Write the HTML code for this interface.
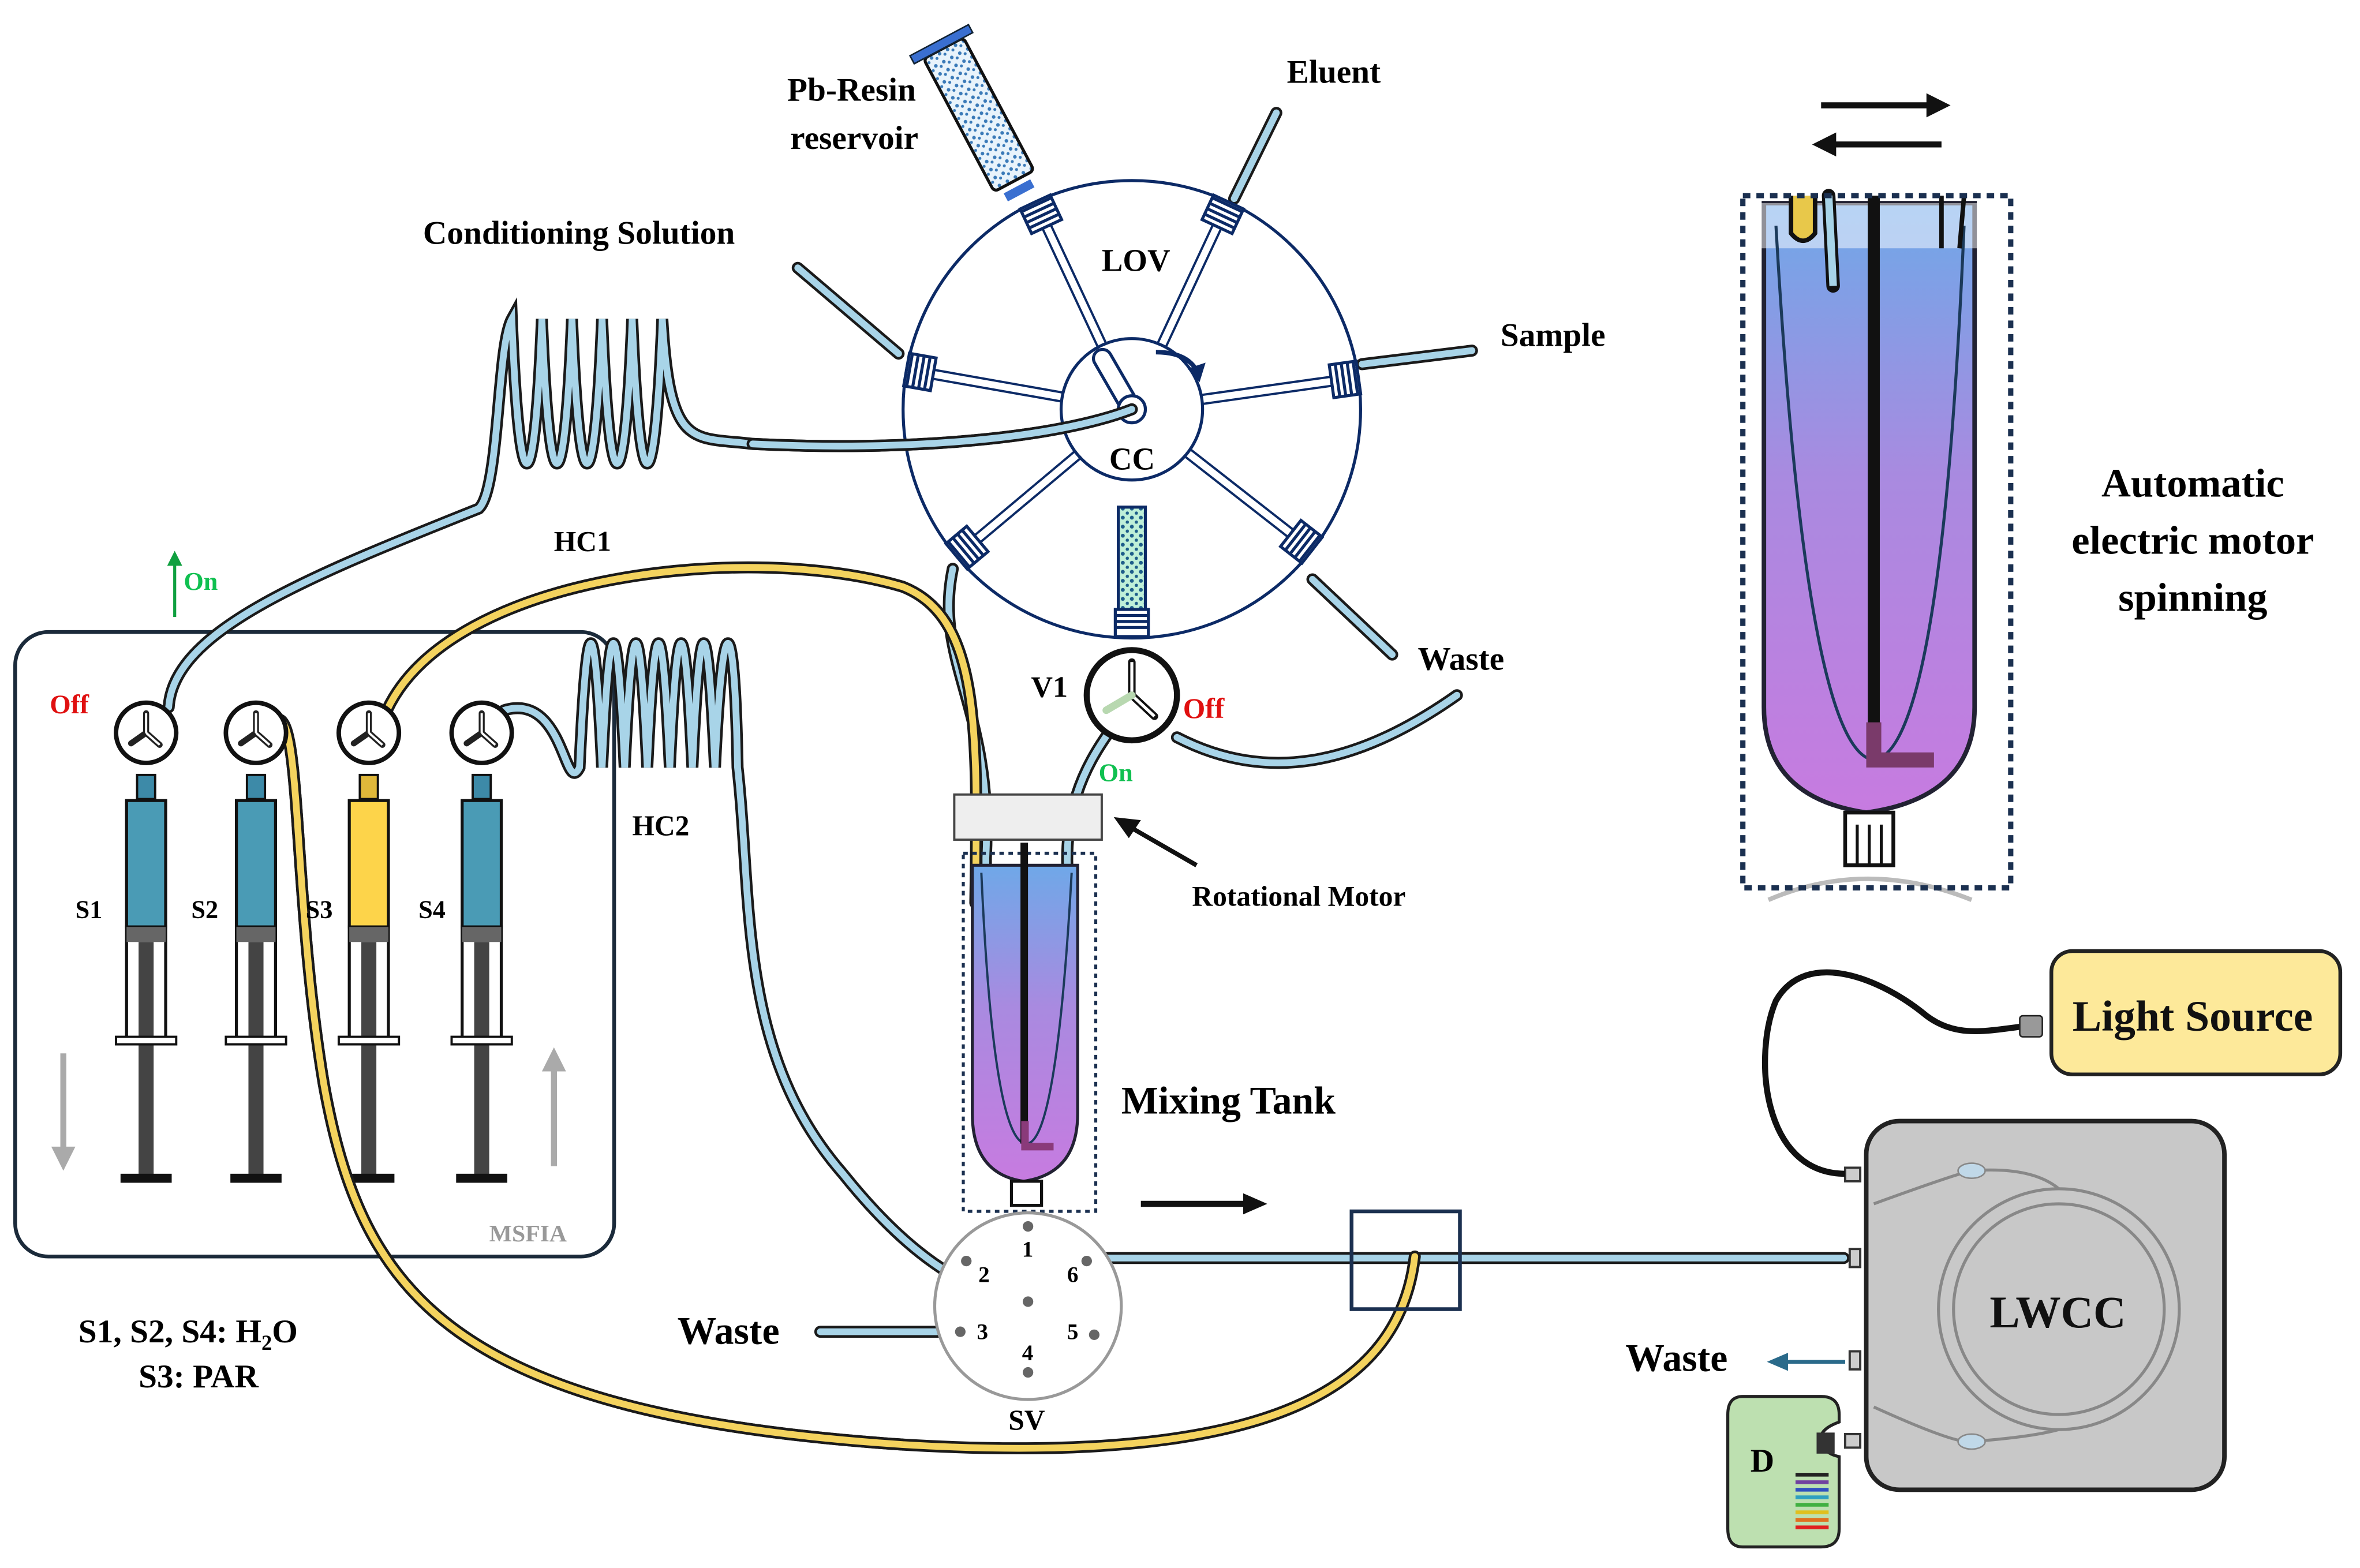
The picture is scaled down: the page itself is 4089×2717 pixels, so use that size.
<!DOCTYPE html>
<html><head><meta charset="utf-8"><style>
html,body{margin:0;padding:0;background:#fff}
svg{display:block}
text{font-family:"Liberation Serif",serif;font-weight:bold}
</style></head><body>
<svg width="4089" height="2717" viewBox="0 0 1568 1042" xmlns="http://www.w3.org/2000/svg">
<defs>
<linearGradient id="tank" x1="0" y1="0" x2="0" y2="1">
<stop offset="0" stop-color="#6fa8e8"/><stop offset="0.45" stop-color="#a98ae0"/><stop offset="1" stop-color="#c77be0"/>
</linearGradient>
<pattern id="dots" width="6" height="6" patternUnits="userSpaceOnUse"><rect width="6" height="6" fill="#bff0d8"/><circle cx="2" cy="2" r="1.3" fill="#1d5d8a"/><circle cx="5" cy="5" r="1.1" fill="#1d5d8a"/></pattern>
<pattern id="dots2" width="6" height="6" patternUnits="userSpaceOnUse"><rect width="6" height="6" fill="#e8f3fb"/><circle cx="2" cy="2" r="1.2" fill="#3a7ab8"/><circle cx="5" cy="4" r="1" fill="#3a7ab8"/></pattern>
<g id="port"><line x1="45" y1="-3" x2="136" y2="-3" stroke="#0c2a66" stroke-width="1.5"/><line x1="45" y1="3" x2="136" y2="3" stroke="#0c2a66" stroke-width="1.5"/>
<rect x="134" y="-11" width="18" height="22" fill="#fff" stroke="#0c2a66" stroke-width="2"/>
<g stroke="#0c2a66" stroke-width="2"><line x1="138" y1="-11" x2="138" y2="11"/><line x1="142" y1="-11" x2="142" y2="11"/><line x1="146" y1="-11" x2="146" y2="11"/><line x1="150" y1="-11" x2="150" y2="11"/></g></g>
<g id="valve"><circle r="20" fill="#fff" stroke="#111" stroke-width="3"/><path d="M0 0 L0 -13 M0 0 L9 8 M0 0 L-10 7" stroke="#222" stroke-width="4" stroke-linecap="round" fill="none"/><path d="M0 0 L0 -13 M0 0 L9 8" stroke="#fff" stroke-width="1.5" fill="none"/></g>
</defs>

<rect x="10" y="420" width="398" height="415" rx="22" fill="#fff" stroke="#1b2a3a" stroke-width="2.5"/>
<text x="325" y="825" font-size="16" fill="#999">MSFIA</text>

<g fill="none" stroke-linecap="round">
<g stroke="#1a1a1a" stroke-width="8">
<path d="M112 470 C115 420 200 385 318 338 C332 325 330 230 340 212 C345 340 355 340 360 212 C365 340 375 340 380 212 C385 340 395 340 400 212 C405 340 415 340 420 212 C425 340 435 340 440 212 C445 300 460 290 500 295 C600 300 700 292 752 272"/>
<path d="M335 472 C375 460 375 530 385 510 C390 400 395 400 400 510 C405 400 410 400 415 510 C420 400 425 400 430 510 C435 400 440 400 445 510 C450 400 455 400 460 510 C465 400 470 400 475 510 C480 400 488 400 490 510 C500 600 490 700 560 780 C600 830 640 860 683 865"/>
<path d="M633 378 C620 440 660 470 655 570 L655 600"/>
<path d="M738 485 C720 510 705 540 710 590"/>
<path d="M782 490 C840 520 900 510 968 462"/>
<path d="M872 385 L925 435"/>
<path d="M905 242 L978 233"/>
<path d="M820 132 L848 75"/>
<path d="M530 178 L597 235"/>
<path d="M735 836 L1225 836"/>
<path d="M545 885 L635 885"/>
</g>
<g stroke="#a8d4e8" stroke-width="4.5">
<path d="M112 470 C115 420 200 385 318 338 C332 325 330 230 340 212 C345 340 355 340 360 212 C365 340 375 340 380 212 C385 340 395 340 400 212 C405 340 415 340 420 212 C425 340 435 340 440 212 C445 300 460 290 500 295 C600 300 700 292 752 272"/>
<path d="M335 472 C375 460 375 530 385 510 C390 400 395 400 400 510 C405 400 410 400 415 510 C420 400 425 400 430 510 C435 400 440 400 445 510 C450 400 455 400 460 510 C465 400 470 400 475 510 C480 400 488 400 490 510 C500 600 490 700 560 780 C600 830 640 860 683 865"/>
<path d="M633 378 C620 440 660 470 655 570 L655 600"/>
<path d="M738 485 C720 510 705 540 710 590"/>
<path d="M782 490 C840 520 900 510 968 462"/>
<path d="M872 385 L925 435"/>
<path d="M905 242 L978 233"/>
<path d="M820 132 L848 75"/>
<path d="M530 178 L597 235"/>
<path d="M735 836 L1225 836"/>
<path d="M545 885 L635 885"/>
</g>
<g stroke="#1a1a1a" stroke-width="8">
<path d="M257 472 C300 380 500 360 600 390 C650 410 650 480 648 600"/>
<path d="M185 478 C200 480 195 600 215 720 C240 860 300 940 600 960 C850 975 930 920 940 835"/>
</g>
<g stroke="#f4d35e" stroke-width="4.5">
<path d="M257 472 C300 380 500 360 600 390 C650 410 650 480 648 600"/>
<path d="M185 478 C200 480 195 600 215 720 C240 860 300 940 600 960 C850 975 930 920 940 835"/>
</g>
</g>

<g transform="translate(97,0)">
<rect x="-6" y="515" width="12" height="16" fill="#3d8aa8" stroke="#111" stroke-width="1.5"/>
<rect x="-13" y="532" width="26" height="84" fill="#4a9bb5" stroke="#111" stroke-width="2"/>
<rect x="-13" y="616" width="26" height="74" fill="#fff" stroke="#111" stroke-width="2"/>
<rect x="-13" y="616" width="26" height="10" fill="#666"/>
<rect x="-5" y="626" width="10" height="155" fill="#444"/>
<rect x="-20" y="689" width="40" height="5" fill="#fff" stroke="#111" stroke-width="1.5"/>
<rect x="-17" y="780" width="34" height="6" fill="#111"/>
</g>
<g transform="translate(170,0)">
<rect x="-6" y="515" width="12" height="16" fill="#3d8aa8" stroke="#111" stroke-width="1.5"/>
<rect x="-13" y="532" width="26" height="84" fill="#4a9bb5" stroke="#111" stroke-width="2"/>
<rect x="-13" y="616" width="26" height="74" fill="#fff" stroke="#111" stroke-width="2"/>
<rect x="-13" y="616" width="26" height="10" fill="#666"/>
<rect x="-5" y="626" width="10" height="155" fill="#444"/>
<rect x="-20" y="689" width="40" height="5" fill="#fff" stroke="#111" stroke-width="1.5"/>
<rect x="-17" y="780" width="34" height="6" fill="#111"/>
</g>
<g transform="translate(245,0)">
<rect x="-6" y="515" width="12" height="16" fill="#e0b83a" stroke="#111" stroke-width="1.5"/>
<rect x="-13" y="532" width="26" height="84" fill="#fdd44a" stroke="#111" stroke-width="2"/>
<rect x="-13" y="616" width="26" height="74" fill="#fff" stroke="#111" stroke-width="2"/>
<rect x="-13" y="616" width="26" height="10" fill="#666"/>
<rect x="-5" y="626" width="10" height="155" fill="#444"/>
<rect x="-20" y="689" width="40" height="5" fill="#fff" stroke="#111" stroke-width="1.5"/>
<rect x="-17" y="780" width="34" height="6" fill="#111"/>
</g>
<g transform="translate(320,0)">
<rect x="-6" y="515" width="12" height="16" fill="#3d8aa8" stroke="#111" stroke-width="1.5"/>
<rect x="-13" y="532" width="26" height="84" fill="#4a9bb5" stroke="#111" stroke-width="2"/>
<rect x="-13" y="616" width="26" height="74" fill="#fff" stroke="#111" stroke-width="2"/>
<rect x="-13" y="616" width="26" height="10" fill="#666"/>
<rect x="-5" y="626" width="10" height="155" fill="#444"/>
<rect x="-20" y="689" width="40" height="5" fill="#fff" stroke="#111" stroke-width="1.5"/>
<rect x="-17" y="780" width="34" height="6" fill="#111"/>
</g>
<path d="M185 478 C200 480 195 600 215 720 C240 860 300 940 600 960" fill="none" stroke="#1a1a1a" stroke-width="8"/>
<path d="M185 478 C200 480 195 600 215 720 C240 860 300 940 600 960" fill="none" stroke="#f4d35e" stroke-width="4.5"/>

<use href="#valve" x="97" y="487"/><use href="#valve" x="170" y="487"/><use href="#valve" x="245" y="487"/><use href="#valve" x="320" y="487"/>
<text x="50" y="610" font-size="17" font-weight="normal">S1</text>
<text x="127" y="610" font-size="17" font-weight="normal">S2</text>
<text x="203" y="610" font-size="17" font-weight="normal">S3</text>
<text x="278" y="610" font-size="17" font-weight="normal">S4</text>
<text x="33" y="474" font-size="18" fill="#e01010">Off</text>
<path d="M116 410 L116 372" stroke="#10a040" stroke-width="2"/><path d="M111 376 L116 366 L121 376Z" fill="#10a040"/>
<text x="122" y="392" font-size="17" fill="#10c050">On</text>
<path d="M42 700 L42 765" stroke="#aaa" stroke-width="4"/><path d="M34 762 L42 778 L50 762Z" fill="#aaa"/>
<path d="M368 775 L368 710" stroke="#aaa" stroke-width="4"/><path d="M360 712 L368 696 L376 712Z" fill="#aaa"/>

<text x="368" y="366" font-size="19">HC1</text>
<text x="420" y="555" font-size="19">HC2</text>
<text x="52" y="892" font-size="22">S1, S2, S4: H<tspan font-size="14" dy="5">2</tspan><tspan dy="-5">O</tspan></text>
<text x="92" y="922" font-size="22">S3: PAR</text>

<circle cx="752" cy="272" r="152" fill="none" stroke="#0c2a66" stroke-width="2"/>
<g transform="translate(752,272)">
<use href="#port" transform="rotate(-115)"/><use href="#port" transform="rotate(-65)"/>
<use href="#port" transform="rotate(-170)"/><use href="#port" transform="rotate(-8)"/>
<use href="#port" transform="rotate(140)"/><use href="#port" transform="rotate(38)"/>
</g>
<circle cx="752" cy="272" r="47" fill="#fff" stroke="#0c2a66" stroke-width="2"/>
<rect x="743" y="337" width="18" height="70" fill="url(#dots)" stroke="#0c2a66" stroke-width="2"/>
<rect x="741" y="405" width="22" height="18" fill="#fff" stroke="#0c2a66" stroke-width="2"/>
<g stroke="#0c2a66" stroke-width="2"><line x1="741" y1="409" x2="763" y2="409"/><line x1="741" y1="413" x2="763" y2="413"/><line x1="741" y1="417" x2="763" y2="417"/></g>
<g transform="translate(752,272) rotate(-30)"><rect x="-6" y="-45" width="12" height="45" rx="6" fill="#fff" stroke="#0c2a66" stroke-width="2"/></g>
<circle cx="752" cy="272" r="9" fill="#fff" stroke="#0c2a66" stroke-width="2"/>
<path d="M768 234 Q788 234 795 246" fill="none" stroke="#0c2a66" stroke-width="3"/><path d="M789 245 L797 254 L801 241Z" fill="#0c2a66"/>
<path d="M500 295 C600 300 700 292 752 272" fill="none" stroke="#1a1a1a" stroke-width="8" stroke-linecap="round"/>
<path d="M500 295 C600 300 700 292 752 272" fill="none" stroke="#a8d4e8" stroke-width="4.5" stroke-linecap="round"/>
<text x="732" y="180" font-size="21">LOV</text>
<text x="737" y="312" font-size="21">CC</text>
<g transform="translate(655,85) rotate(-28)">
<rect x="-15" y="-60" width="30" height="100" rx="3" fill="url(#dots2)" stroke="#111" stroke-width="2"/>
<rect x="-22" y="-66" width="44" height="6" fill="#3a6fd0" stroke="#123" stroke-width="1"/>
<rect x="-10" y="44" width="20" height="6" fill="#3a6fd0"/>
</g>
<text x="523" y="67" font-size="22">Pb-Resin</text>
<text x="525" y="99" font-size="22">reservoir</text>
<text x="855" y="55" font-size="22">Eluent</text>
<text x="281" y="162" font-size="22">Conditioning Solution</text>
<text x="997" y="230" font-size="22">Sample</text>
<text x="942" y="445" font-size="22">Waste</text>
<circle cx="752" cy="462" r="30" fill="#fff" stroke="#111" stroke-width="4"/>
<path d="M752 462 L752 440 M752 462 L767 476" stroke="#111" stroke-width="5" stroke-linecap="round"/>
<path d="M752 462 L752 440 M752 462 L767 476" stroke="#fff" stroke-width="2"/>
<path d="M752 462 L735 472" stroke="#b8d8b0" stroke-width="5" stroke-linecap="round"/>
<text x="685" y="463" font-size="20">V1</text>
<text x="786" y="477" font-size="19" fill="#e01010">Off</text>
<text x="730" y="519" font-size="17" fill="#10c050">On</text>

<rect x="640" y="567" width="88" height="238" fill="none" stroke="#1b3050" stroke-width="2" stroke-dasharray="3,3"/>
<path d="M646 575 L646 740 Q646 780 680 785 Q716 780 716 740 L716 575Z" fill="url(#tank)" stroke="#223" stroke-width="2"/>
<path d="M652 580 Q660 760 682 760 Q702 760 712 580" fill="none" stroke="#1b3a5a" stroke-width="1.5"/>
<rect x="678" y="560" width="5" height="200" fill="#111"/>
<path d="M681 745 L681 762 L700 762" fill="none" stroke="#8a3a7a" stroke-width="5"/>
<rect x="672" y="785" width="20" height="16" fill="#fff" stroke="#111" stroke-width="2"/>
<rect x="634" y="528" width="98" height="30" fill="#eee" stroke="#444" stroke-width="1.5"/>
<path d="M795 575 L748 548" stroke="#111" stroke-width="3"/><path d="M740 543 L758 545 L750 557Z" fill="#111"/>
<text x="792" y="602" font-size="19">Rotational Motor</text>
<text x="745" y="740" font-size="26">Mixing Tank</text>
<path d="M758 800 L830 800" stroke="#111" stroke-width="4"/><path d="M826 793 L842 800 L826 807Z" fill="#111"/>

<circle cx="683" cy="868" r="62" fill="#fff" stroke="#999" stroke-width="2"/>
<g fill="#666"><circle cx="683" cy="815" r="3.5"/><circle cx="642" cy="838" r="3.5"/><circle cx="722" cy="838" r="3.5"/><circle cx="638" cy="885" r="3.5"/><circle cx="727" cy="887" r="3.5"/><circle cx="683" cy="912" r="3.5"/><circle cx="683" cy="865" r="3.5"/></g>
<g font-size="15"><text x="679" y="835">1</text><text x="650" y="852">2</text><text x="649" y="890">3</text><text x="679" y="904">4</text><text x="709" y="890">5</text><text x="709" y="852">6</text></g>
<text x="670" y="950" font-size="19">SV</text>
<text x="450" y="893" font-size="26">Waste</text>

<rect x="898" y="805" width="72" height="65" fill="none" stroke="#1b3050" stroke-width="2.5"/>

<rect x="1240" y="745" width="238" height="245" rx="22" fill="#c8c8c8" stroke="#222" stroke-width="3"/>
<circle cx="1368" cy="870" r="80" fill="none" stroke="#888" stroke-width="2"/>
<circle cx="1368" cy="870" r="70" fill="none" stroke="#888" stroke-width="2"/>
<path d="M1245 800 Q1300 780 1310 778 Q1350 775 1368 790" fill="none" stroke="#888" stroke-width="2"/>
<path d="M1245 935 Q1300 960 1310 958 Q1350 955 1368 950" fill="none" stroke="#888" stroke-width="2"/>
<ellipse cx="1310" cy="778" rx="9" ry="5" fill="#c0d8e8" stroke="#888"/>
<ellipse cx="1310" cy="958" rx="9" ry="5" fill="#c0d8e8" stroke="#888"/>
<text x="1322" y="882" font-size="30" fill="#111">LWCC</text>
<g fill="#ccc" stroke="#333" stroke-width="1.5"><rect x="1226" y="776" width="10" height="9"/><rect x="1229" y="830" width="7" height="12"/><rect x="1229" y="898" width="7" height="12"/><rect x="1226" y="953" width="10" height="9"/></g>
<path d="M1226 905 L1185 905" stroke="#2a6a8a" stroke-width="2.5"/><path d="M1188 899 L1174 905 L1188 911Z" fill="#2a6a8a"/>
<text x="1080" y="911" font-size="26">Waste</text>
<path d="M1226 780 C1170 780 1165 700 1180 665 C1200 630 1250 650 1280 675 C1300 690 1320 685 1345 682" fill="none" stroke="#111" stroke-width="4"/>
<rect x="1342" y="675" width="15" height="14" rx="2" fill="#999" stroke="#222"/>
<rect x="1363" y="632" width="192" height="82" rx="14" fill="#fde99a" stroke="#222" stroke-width="2.5"/>
<text x="1377" y="685" font-size="29" fill="#111">Light Source</text>
<path d="M1158 928 L1210 928 Q1222 928 1222 940 L1222 945 Q1208 950 1210 958 Q1212 966 1222 968 L1222 1016 Q1222 1028 1210 1028 L1158 1028 Q1148 1028 1148 1016 L1148 940 Q1148 928 1158 928Z" fill="#bde0b0" stroke="#222" stroke-width="2"/>
<rect x="1207" y="952" width="12" height="14" fill="#333"/>
<text x="1163" y="978" font-size="22">D</text>
<g stroke-width="2.5"><line x1="1193" y1="980" x2="1215" y2="980" stroke="#222"/><line x1="1193" y1="985" x2="1215" y2="985" stroke="#7040a0"/><line x1="1193" y1="990" x2="1215" y2="990" stroke="#3050c0"/><line x1="1193" y1="995" x2="1215" y2="995" stroke="#30a0c0"/><line x1="1193" y1="1000" x2="1215" y2="1000" stroke="#40b040"/><line x1="1193" y1="1005" x2="1215" y2="1005" stroke="#e0c020"/><line x1="1193" y1="1010" x2="1215" y2="1010" stroke="#e07020"/><line x1="1193" y1="1015" x2="1215" y2="1015" stroke="#e02020"/></g>

<path d="M1210 70 L1285 70" stroke="#111" stroke-width="4"/><path d="M1280 62 L1296 70 L1280 78Z" fill="#111"/>
<path d="M1290 96 L1215 96" stroke="#111" stroke-width="4"/><path d="M1220 88 L1204 96 L1220 104Z" fill="#111"/>
<path d="M1172 135 L1172 470 Q1172 530 1240 540 Q1312 530 1312 470 L1312 135Z" fill="url(#tank)" stroke="#223" stroke-width="3"/>
<rect x="1170" y="135" width="146" height="30" fill="#fff" opacity="0.5"/>
<path d="M1180 150 Q1200 500 1245 505 Q1290 500 1305 150" fill="none" stroke="#1b3a5a" stroke-width="2"/>
<rect x="1241" y="130" width="8" height="365" fill="#111"/>
<path d="M1245 480 L1245 505 L1285 505" fill="none" stroke="#7a3a6a" stroke-width="10"/>
<path d="M1190 130 L1190 155 Q1198 165 1206 155 L1206 130" fill="#e8c84a" stroke="#111" stroke-width="3"/>
<path d="M1215 130 L1218 190" stroke="#111" stroke-width="9" stroke-linecap="round"/><path d="M1215 130 L1218 190" stroke="#a8d4e8" stroke-width="5"/>
<path d="M1290 130 L1290 165 M1305 130 L1302 165" stroke="#111" stroke-width="3"/>
<rect x="1226" y="540" width="32" height="35" fill="#fff" stroke="#111" stroke-width="2.5"/>
<g stroke="#111" stroke-width="2"><line x1="1234" y1="548" x2="1234" y2="575"/><line x1="1242" y1="548" x2="1242" y2="575"/><line x1="1250" y1="548" x2="1250" y2="575"/></g>
<path d="M1175 598 Q1240 570 1310 598" fill="none" stroke="#bbb" stroke-width="3"/>
<rect x="1158" y="130" width="178" height="460" fill="none" stroke="#1b3050" stroke-width="3.5" stroke-dasharray="5,4"/>
<text x="1457" y="330" font-size="27" text-anchor="middle">Automatic</text>
<text x="1457" y="368" font-size="27" text-anchor="middle">electric motor</text>
<text x="1457" y="406" font-size="27" text-anchor="middle">spinning</text>
</svg>
</body></html>
